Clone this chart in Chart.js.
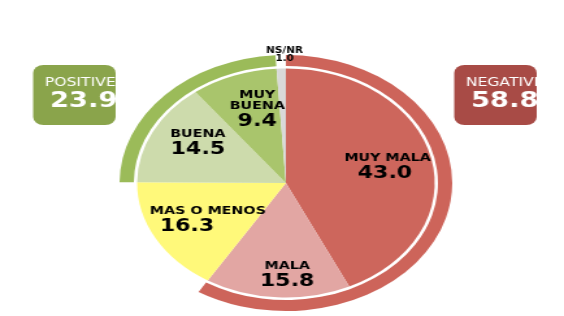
<!DOCTYPE html>
<html>
<head>
<meta charset="utf-8">
<script src="https://cdn.jsdelivr.net/npm/chart.js@4"></script>
<style>
  html, body { margin: 0; padding: 0; background: #fff; overflow: hidden; }
  #wrap { width: 434px; height: 316px; transform: scaleX(1.2995); transform-origin: 0 0; }
</style>
</head>
<body>
<div id="wrap"><canvas id="chart"></canvas></div>
<script>
const categories = ['MUY MALA', 'MALA', 'MAS O MENOS', 'BUENA', 'MUY BUENA', 'NS/NR'];
const values = [43.0, 15.8, 16.3, 14.5, 9.4, 1.0];
const sliceColors = ['#CD665C', '#E2A6A3', '#FFF97A', '#CDDBAC', '#A9C56C', '#D9D9D9'];

const positiveTotal = 23.9;
const negativeTotal = 58.8;

// outer ring: negative / (skip) / positive / (skip)
const ringValues = [negativeTotal, values[2], positiveTotal, values[5]];
const ringColors = ['#CD645A', 'rgba(0,0,0,0)', '#9BBB59', 'rgba(0,0,0,0)'];

const FONT = '"DejaVu Sans", Verdana, sans-serif';

const sliceLabels = {
  id: 'sliceLabels',
  afterDatasetsDraw(chart) {
    const ctx = chart.ctx;
    const arcs = chart.getDatasetMeta(2).data;
    // distance along the mid angle, then small nudges (x, y, value x)
    const place = [[0.7, 0, 0, -2], [0.78, 6, 1, 0], [0.6, 0, 2, -16], [0.7, 4, -6, 0], [0.7, 6, 0, 0], [1.12, 3, 0, 0]];
    ctx.save();
    ctx.fillStyle = '#000';
    ctx.textAlign = 'center';
    ctx.textBaseline = 'middle';
    arcs.forEach((arc, i) => {
      const mid = (arc.startAngle + arc.endAngle) / 2;
      const [d, nx, ny, vx] = place[i];
      const r = arc.outerRadius * d;
      const x = arc.x + Math.cos(mid) * r + nx;
      const y = arc.y + Math.sin(mid) * r + ny;
      const value = values[i].toFixed(1);
      if (i === 5) {
        ctx.font = 'bold 8px ' + FONT;
        ctx.fillText(categories[i], x, y - 4);
        ctx.fillText(value, x, y + 4);
        return;
      }
      const lines = categories[i] === 'MUY BUENA' ? ['MUY', 'BUENA'] : [categories[i]];
      const h = (lines.length - 1) * 11 + 15;
      let ly = y - h / 2;
      ctx.font = 'bold 11px ' + FONT;
      lines.forEach(l => { ctx.fillText(l, x, ly); ly += 11; });
      ctx.font = 'bold 17px ' + FONT;
      ctx.fillText(value, x + vx, ly + 5);
    });
    ctx.restore();
  }
};

const totalBoxes = {
  id: 'totalBoxes',
  afterDraw(chart) {
    const ctx = chart.ctx;
    const boxes = [
      { x: 25.5, label: 'POSITIVE', value: positiveTotal, color: '#8AA44B' },
      { x: 349.5, label: 'NEGATIVE', value: negativeTotal, color: '#A84B46' }
    ];
    boxes.forEach(b => {
      ctx.save();
      ctx.beginPath();
      ctx.roundRect(b.x, 65, 63.5, 60, 8);
      ctx.fillStyle = b.color;
      ctx.fill();
      ctx.clip();
      ctx.fillStyle = '#fff';
      ctx.textAlign = 'left';
      ctx.textBaseline = 'middle';
      ctx.font = '12px ' + FONT;
      ctx.fillText(b.label, b.x + 9, 83);
      ctx.font = 'bold 21px ' + FONT;
      ctx.fillText(b.value.toFixed(1), b.x + 13, 102);
      ctx.restore();
    });
  }
};

new Chart(document.getElementById('chart'), {
  type: 'pie',
  data: {
    labels: categories,
    datasets: [
      { data: ringValues, backgroundColor: ringColors, borderWidth: 0, weight: 11 },
      { data: [100], backgroundColor: ['rgba(0,0,0,0)'], borderWidth: 0, weight: 2.5 },
      { data: values, backgroundColor: sliceColors, borderWidth: 0, weight: 114.5 }
    ]
  },
  options: {
    responsive: true,
    maintainAspectRatio: false,
    animation: false,
    layout: { padding: { top: 55, bottom: 5, left: 92, right: 86 } },
    plugins: { legend: { display: false }, tooltip: { enabled: false } }
  },
  plugins: [sliceLabels, totalBoxes]
});
</script>
</body>
</html>
